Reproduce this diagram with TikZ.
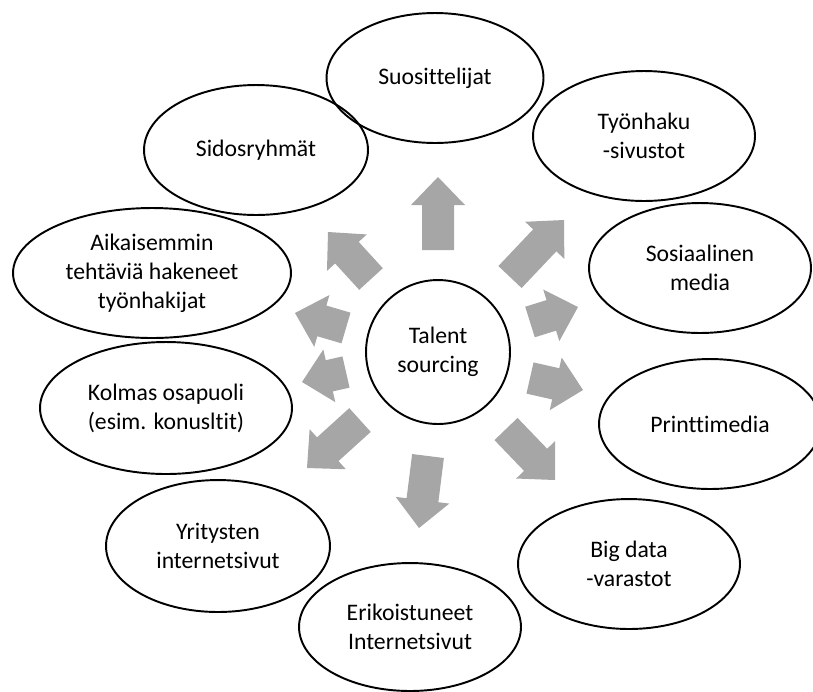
\documentclass[tikz,border=0pt]{standalone}
\usepackage{fontspec}
\setmainfont{Carlito}[RawFeature={-liga;-clig;-calt;-dlig}]
\usetikzlibrary{calc,shapes.geometric}

\definecolor{arrowgray}{RGB}{166,166,166}

\tikzset{
  source/.style={draw, ellipse, line width=1.1pt, inner sep=0pt, align=center,
    minimum width=4.44cm, minimum height=2.6cm,
    font=\fontsize{13.5}{16.5}\selectfont},
}

% block arrow from tail (#1) to tip (#2)
\newcommand{\blockarrow}[2]{%
  \coordinate (base) at ($(#2)!0.56cm!(#1)$);
  \fill[arrowgray] ($(#1)!0.32cm!90:(#2)$) -- ($(base)!0.32cm!90:(#2)$)
    -- ($(base)!0.54cm!90:(#2)$) -- (#2) -- ($(base)!0.54cm!-90:(#2)$)
    -- ($(base)!0.32cm!-90:(#2)$) -- ($(#1)!0.32cm!-90:(#2)$) -- cycle;
}

\begin{document}
\begin{tikzpicture}[x=0.02cm, y=-0.02cm]
  \useasboundingbox (0,0) rectangle (813,691);

  \node[source, circle, minimum size=2.88cm] (talent) at (438,352) {Talent\\sourcing};

  \node[source, minimum width=4.34cm] (suos) at (435,78) {Suosittelijat};
  \node[source] (tyon) at (644,136) {Työnhaku\\-sivustot};
  \node[source] (some) at (700,268) {Sosiaalinen\\media};
  \node[source] (print) at (710,424) {Printtimedia};
  \node[source] (bigdata) at (629,564) {Big data\\-varastot};
  \node[source, minimum height=2.56cm] (erik) at (410,627) {Erikoistuneet\\Internetsivut};
  \node[source, minimum width=4.48cm, minimum height=2.64cm] (yrit) at (218,546) {Yritysten\\internetsivut};
  \node[source, minimum width=5.04cm, minimum height=2.64cm] (kolmas) at (166,408) {Kolmas osapuoli\\(esim. konusltit)};
  \node[source, minimum width=5.56cm] (aik) at (152,273) {Aikaisemmin\\tehtäviä hakeneet\\työnhakijat};
  \node[source, minimum width=4.48cm] (sidos) at (256,150) {Sidosryhmät};

  % arrow tails and tips
  \coordinate (t1) at (438,250);  \coordinate (p1) at (438,177);
  \coordinate (t2) at (510,277);  \coordinate (p2) at (564,220);
  \coordinate (t3) at (371,279);  \coordinate (p3) at (328,232);
  \coordinate (t4) at (530,322);  \coordinate (p4) at (578,307);
  \coordinate (t5) at (530,378);  \coordinate (p5) at (583,390);
  \coordinate (t6) at (506,429);  \coordinate (p6) at (555,480);
  \coordinate (t7) at (428,456);  \coordinate (p7) at (419,528);
  \coordinate (t8) at (360,420);  \coordinate (p8) at (307,468);
  \coordinate (t9) at (346,372);  \coordinate (p9) at (302,382);
  \coordinate (t10) at (346,328); \coordinate (p10) at (295,313);

  \foreach \i in {1,...,10}{
    \blockarrow{t\i}{p\i}
  }
\end{tikzpicture}
\end{document}
